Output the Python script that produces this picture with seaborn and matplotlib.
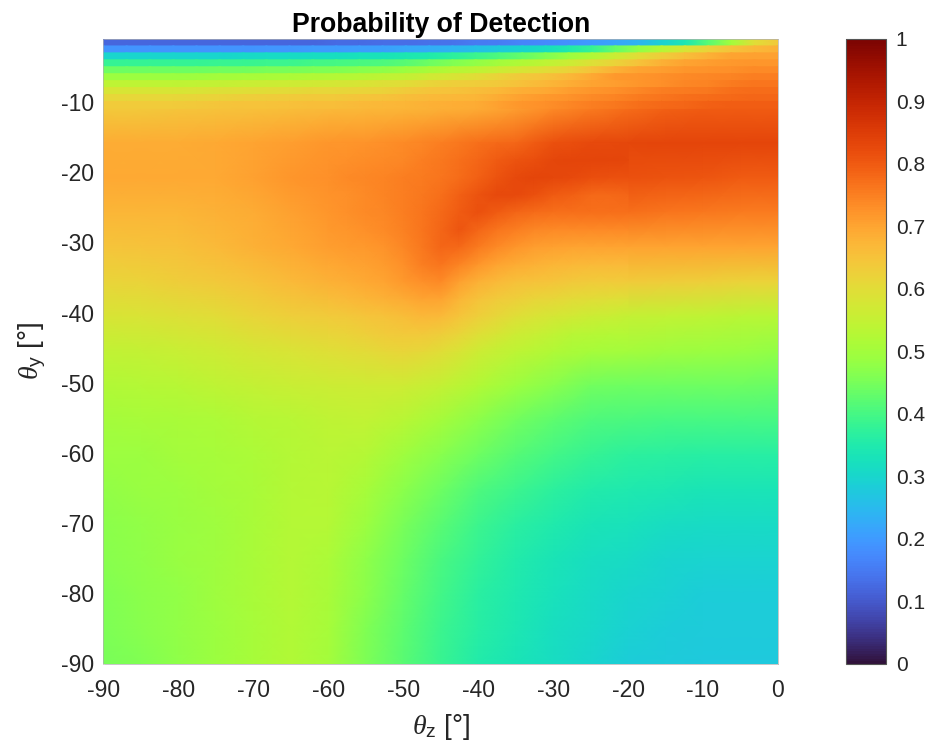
import numpy as np
import matplotlib
matplotlib.use("Agg")
import matplotlib.pyplot as plt
from matplotlib.transforms import Affine2D
import seaborn as sns

W, H = 928, 745

# smooth body: 19 theta_z knots across, 17 rows down from about -11 to -90
body_values = [
 [.64,.64,.645,.65,.655,.66,.665,.67,.675,.68,.69,.71,.735,.755,.775,.79,.80,.80,.80],
 [.69,.69,.69,.695,.70,.71,.72,.725,.735,.75,.77,.785,.815,.825,.83,.835,.835,.835,.835],
 [.695,.695,.695,.695,.705,.72,.73,.74,.75,.765,.79,.825,.832,.82,.815,.81,.805,.80,.80],
 [.675,.675,.675,.68,.69,.705,.72,.735,.75,.78,.81,.79,.775,.775,.77,.765,.76,.755,.755],
 [.645,.65,.655,.665,.68,.695,.71,.725,.745,.775,.765,.725,.71,.705,.70,.70,.70,.70,.70],
 [.615,.62,.63,.64,.65,.665,.68,.695,.71,.725,.68,.655,.645,.64,.635,.63,.625,.62,.62],
 [.58,.585,.59,.60,.615,.625,.635,.645,.655,.665,.625,.595,.575,.56,.55,.545,.54,.535,.53],
 [.545,.55,.555,.565,.575,.585,.595,.605,.615,.60,.565,.54,.52,.505,.50,.495,.49,.485,.48],
 [.52,.525,.53,.54,.55,.555,.56,.565,.565,.55,.52,.49,.465,.445,.44,.44,.44,.44,.435],
 [.50,.505,.51,.515,.525,.53,.54,.545,.53,.50,.47,.445,.425,.41,.405,.40,.40,.40,.40],
 [.49,.49,.50,.505,.515,.525,.535,.525,.495,.465,.44,.415,.395,.38,.37,.365,.36,.36,.36],
 [.48,.485,.49,.50,.51,.525,.53,.505,.47,.44,.41,.39,.37,.355,.345,.34,.335,.335,.335],
 [.47,.48,.485,.495,.51,.525,.525,.49,.45,.42,.39,.365,.35,.335,.325,.315,.31,.31,.31],
 [.465,.475,.485,.495,.51,.525,.515,.475,.44,.405,.375,.355,.335,.32,.31,.30,.295,.295,.295],
 [.46,.47,.48,.495,.51,.525,.51,.47,.43,.395,.365,.345,.325,.31,.30,.29,.285,.285,.285],
 [.455,.465,.48,.49,.505,.52,.505,.46,.425,.39,.36,.34,.32,.305,.29,.285,.28,.28,.28],
 [.45,.46,.475,.49,.505,.52,.50,.455,.42,.385,.355,.335,.315,.30,.285,.28,.275,.275,.275],
]

# finer knots around the ridge: 17 theta_z knots from -60 to -20, 13 rows
ridge_values = [
 [.72,.722,.725,.73,.735,.742,.75,.76,.77,.778,.785,.80,.815,.82,.825,.828,.83],
 [.725,.73,.733,.737,.742,.75,.76,.77,.785,.80,.81,.82,.83,.835,.835,.835,.83],
 [.73,.735,.74,.745,.75,.757,.765,.775,.79,.81,.828,.835,.832,.825,.82,.815,.815],
 [.725,.73,.737,.743,.75,.76,.772,.79,.81,.825,.825,.815,.80,.79,.78,.78,.785],
 [.72,.727,.735,.742,.75,.763,.78,.80,.815,.80,.785,.775,.77,.77,.77,.77,.77],
 [.715,.72,.727,.735,.747,.762,.785,.805,.785,.765,.75,.74,.735,.735,.735,.735,.735],
 [.71,.712,.718,.725,.74,.76,.785,.78,.755,.735,.72,.71,.705,.70,.70,.70,.70],
 [.695,.70,.705,.713,.73,.75,.765,.745,.72,.70,.69,.68,.675,.67,.665,.665,.665],
 [.68,.687,.695,.703,.715,.73,.735,.705,.68,.665,.655,.65,.645,.64,.635,.635,.635],
 [.658,.665,.672,.68,.69,.70,.70,.675,.65,.635,.625,.615,.61,.605,.60,.595,.59],
 [.635,.64,.645,.65,.66,.67,.665,.645,.625,.61,.595,.585,.575,.57,.56,.555,.55],
 [.615,.62,.625,.635,.64,.64,.63,.615,.595,.58,.565,.555,.545,.535,.53,.525,.525],
 [.595,.60,.605,.61,.615,.61,.60,.585,.565,.55,.54,.53,.52,.51,.505,.50,.50],
]

# top ten 1-degree rows, thirty knots across theta_z
band_values = [
 [.12,.12,.12,.12,.12,.12,.12,.12,.12,.12,.125,.125,.13,.13,.135,.14,.15,.155,.165,.175,.185,.20,.215,.24,.29,.34,.42,.50,.60,.64],
 [.19,.19,.19,.19,.19,.19,.19,.195,.195,.20,.20,.205,.21,.22,.23,.24,.26,.28,.30,.32,.35,.38,.43,.48,.53,.58,.62,.65,.67,.68],
 [.30,.30,.30,.30,.30,.30,.305,.31,.31,.315,.32,.325,.33,.34,.35,.37,.39,.41,.43,.46,.49,.52,.56,.60,.63,.66,.68,.70,.705,.705],
 [.38,.38,.38,.38,.38,.385,.385,.39,.39,.395,.40,.405,.41,.42,.44,.46,.48,.50,.52,.54,.56,.59,.62,.65,.68,.70,.71,.715,.72,.72],
 [.44,.44,.44,.44,.44,.445,.445,.45,.45,.455,.46,.465,.475,.49,.51,.53,.54,.56,.58,.60,.62,.65,.68,.70,.71,.72,.725,.73,.735,.735],
 [.49,.49,.49,.49,.495,.50,.505,.51,.515,.52,.525,.53,.54,.55,.57,.58,.60,.62,.64,.65,.67,.695,.715,.72,.73,.735,.74,.745,.75,.75],
 [.54,.54,.54,.54,.545,.55,.555,.56,.565,.57,.575,.58,.59,.60,.615,.625,.63,.64,.655,.67,.685,.70,.71,.72,.73,.74,.745,.755,.765,.765],
 [.58,.58,.58,.58,.585,.59,.595,.60,.605,.61,.61,.615,.62,.635,.645,.65,.66,.67,.685,.695,.71,.72,.73,.74,.75,.755,.76,.77,.775,.775],
 [.61,.61,.61,.61,.615,.62,.625,.63,.635,.64,.64,.645,.65,.66,.665,.67,.675,.69,.705,.715,.725,.735,.745,.755,.765,.77,.775,.78,.785,.785],
 [.635,.635,.635,.635,.64,.645,.65,.65,.655,.66,.66,.665,.67,.675,.68,.685,.69,.705,.72,.73,.74,.75,.76,.77,.78,.785,.79,.795,.795,.795],
]

xticks = list(range(-90, 10, 10))
yticks = list(range(-10, -100, -10))
cticks = [round(i / 10, 1) for i in range(11)]
clabels = ["0", "0.1", "0.2", "0.3", "0.4", "0.5", "0.6", "0.7", "0.8", "0.9", "1"]

sns.set_theme(style="white")
plt.rcParams["font.family"] = ["Liberation Sans", "DejaVu Sans"]
plt.rcParams["mathtext.fontset"] = "custom"
plt.rcParams["mathtext.rm"] = "Liberation Sans"
plt.rcParams["mathtext.it"] = "Liberation Serif:italic"
plt.rcParams["mathtext.bf"] = "Liberation Sans:bold"
TXT = "#262626"

fig = plt.figure(figsize=(W / 100, H / 100), dpi=100)
def box(l, t, r, b):
    return [l / W, 1 - b / H, (r - l) / W, (b - t) / H]
ax = fig.add_axes(box(103.5, 39, 778, 663.5))
cax = fig.add_axes(box(846, 39, 886, 663.5))
common = dict(cmap="turbo", vmin=0, vmax=1, xticklabels=False, yticklabels=False)

def place(sx, sy, x0, y0):
    # cell index -> (theta_z, theta_y); the y axis runs from -90 up to -1
    return (Affine2D().scale(sx, -sy).translate(x0, -y0)
            .scale(1, 89 / 90).translate(0, -1) + ax.transData)

sns.heatmap(np.array(body_values), ax=ax, cbar_ax=cax, shading="gouraud",
            transform=place(5, 5, -90, 10), cbar_kws={"ticks": cticks}, **common)
sns.heatmap(np.array(ridge_values), ax=ax, cbar=False, shading="gouraud",
            transform=place(2.5, 2.5, -60, 15), **common)
for j, row in enumerate(band_values):
    sns.heatmap(np.array([row, row]), ax=ax, cbar=False, shading="gouraud",
                transform=place(90 / 29, 1, -90, j), **common)

ax.set_xlim(-90, 0)
ax.set_ylim(-90, -1)
ax.set_xticks(xticks)
ax.set_xticklabels([str(v) for v in xticks], rotation=0)
ax.set_yticks(yticks)
ax.set_yticklabels([str(v) for v in yticks], rotation=0)
ax.tick_params(axis="x", length=0, labelsize=16.5, labelcolor=TXT, pad=11.5)
ax.tick_params(axis="y", length=0, labelsize=16.5, labelcolor=TXT, pad=7)
for s in ax.spines.values():
    s.set_visible(True)
    s.set_linewidth(0.5)
    s.set_color("#b0b0b0")
ax.set_xlabel(r"$\theta_{\mathrm{z}}$ [°]", fontsize=20, color=TXT, labelpad=7)
ax.set_ylabel(r"$\theta_{\mathrm{y}}$ [°]", fontsize=20, color=TXT, labelpad=9)
ax.set_title("Probability of Detection", fontsize=19.2, fontweight="bold", color="black", pad=5)

cbar = ax.collections[0].colorbar
cbar.outline.set_visible(True)
cbar.outline.set_linewidth(0.8)
cbar.outline.set_edgecolor("#555555")
cbar.set_ticks(cticks)
cbar.set_ticklabels(clabels)
cax.tick_params(axis="y", direction="in", length=5, width=0.7, color="#333333",
                labelsize=15, labelcolor=TXT, pad=7, right=True, left=False)

fig.savefig("out.png", dpi=100)
